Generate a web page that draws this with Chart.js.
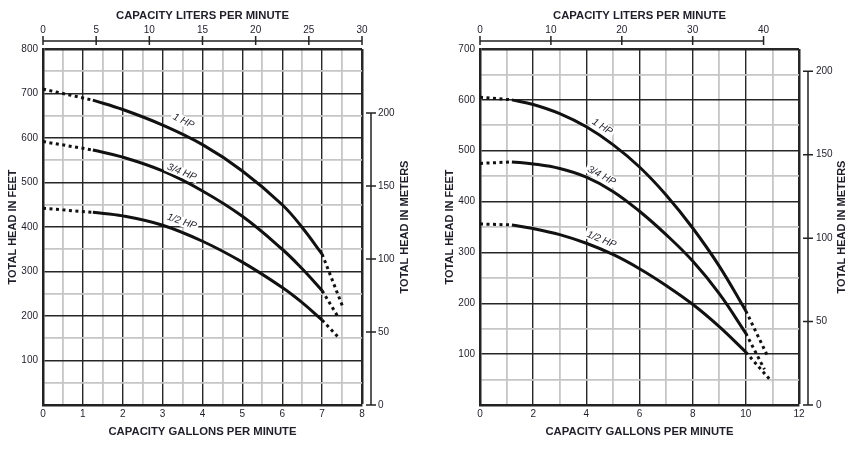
<!DOCTYPE html>
<html>
<head>
<meta charset="utf-8">
<script src="https://cdn.jsdelivr.net/npm/chart.js@4.4.1/dist/chart.umd.min.js"></script>
<style>
  body { margin: 0; background: #fff; }
  .panel { position: absolute; top: 0; }
</style>
</head>
<body>
<div class="panel" style="left:0"><canvas id="leftChart" width="430" height="459"></canvas></div>
<div class="panel" style="left:430px"><canvas id="rightChart" width="426" height="459"></canvas></div>
<script>
// Curve names (same in both panels)
const CURVE_NAMES = ["1 HP", "3/4 HP", "1/2 HP"];

// Left panel: gallons per minute vs total head in feet
const LEFT_GPM = [1.25, 2, 3, 4, 5, 6, 6.5, 7];
const LEFT_1HP = [685, 664, 629, 585, 526, 450, 399, 339];
const LEFT_34HP = [573, 557, 526, 481, 424, 350, 306, 257];
const LEFT_12HP = [433, 425, 404, 368, 321, 264, 230, 191];
// dotted parts near shut-off
const LEFT_SHUTOFF_GPM = [0, 1.25];
const LEFT_1HP_SHUTOFF = [710, 685];
const LEFT_34HP_SHUTOFF = [592, 573];
const LEFT_12HP_SHUTOFF = [442, 433];
// dotted parts past the end of the curve
const LEFT_1HP_RUNOUT_GPM = [7, 7.52];
const LEFT_1HP_RUNOUT = [339, 220];
const LEFT_34HP_RUNOUT_GPM = [7, 7.42];
const LEFT_34HP_RUNOUT = [257, 195];
const LEFT_12HP_RUNOUT_GPM = [7, 7.43];
const LEFT_12HP_RUNOUT = [191, 150];

// Right panel
const RIGHT_GPM = [1.2, 2, 3, 4, 5, 6, 7, 8, 9, 10];
const RIGHT_1HP = [600, 591, 573, 547, 512, 468, 413, 348, 273, 185];
const RIGHT_34HP = [478, 474, 465, 448, 420, 381, 335, 283, 219, 141];
const RIGHT_12HP = [354, 347, 335, 318, 296, 268, 235, 198, 154, 104];
const RIGHT_SHUTOFF_GPM = [0, 1.2];
const RIGHT_1HP_SHUTOFF = [605, 600];
const RIGHT_34HP_SHUTOFF = [475, 478];
const RIGHT_12HP_SHUTOFF = [356, 354];
const RIGHT_1HP_RUNOUT_GPM = [10, 10.83];
const RIGHT_1HP_RUNOUT = [185, 95];
const RIGHT_34HP_RUNOUT_GPM = [10, 10.7];
const RIGHT_34HP_RUNOUT = [141, 70];
const RIGHT_12HP_RUNOUT_GPM = [10, 10.97];
const RIGHT_12HP_RUNOUT = [104, 46];

const FT_TO_M = 0.3048;
const TXT = "#1f1f2a";
const DARK_GRID = "#262626";
const LIGHT_GRID = "#c6c6c6";

Chart.defaults.font.family = '"Liberation Sans", Arial, Helvetica, sans-serif';
Chart.defaults.color = TXT;

const pts = (xs, ys) => xs.map((x, i) => ({ x: x, y: ys[i] }));

// axis lines for liters / meters, the meters title and the curve labels
const decorPlugin = {
  id: "decor",
  afterDraw(chart, args, opts) {
    const ctx = chart.ctx;
    const a = chart.chartArea;
    const top = chart.scales.x2;
    const m = chart.scales.y2;
    ctx.save();
    ctx.strokeStyle = "#222";
    ctx.lineWidth = 1.5;

    // liters per minute axis above the plot
    const ty = a.top - 8;
    const tv = top.ticks.map(t => t.value);
    ctx.beginPath();
    ctx.moveTo(top.getPixelForValue(tv[0]), ty);
    ctx.lineTo(top.getPixelForValue(tv[tv.length - 1]), ty);
    tv.forEach(v => {
      const x = top.getPixelForValue(v);
      ctx.moveTo(x, ty - 5);
      ctx.lineTo(x, ty + 4);
    });
    ctx.stroke();

    // meters axis right of the plot
    const mx = a.right + 9;
    const mv = m.ticks.map(t => t.value);
    ctx.beginPath();
    ctx.moveTo(mx, m.getPixelForValue(mv[0]));
    ctx.lineTo(mx, m.getPixelForValue(mv[mv.length - 1]));
    mv.forEach(v => {
      const y = m.getPixelForValue(v);
      ctx.moveTo(mx - 5, y);
      ctx.lineTo(mx + 5, y);
    });
    ctx.stroke();

    // meters title, reads bottom to top
    ctx.save();
    ctx.translate(a.right + 43, (a.top + a.bottom) / 2);
    ctx.rotate(-Math.PI / 2);
    ctx.fillStyle = TXT;
    ctx.font = 'bold 11px "Liberation Sans", Arial, sans-serif';
    ctx.textAlign = "center";
    ctx.textBaseline = "middle";
    ctx.fillText("TOTAL HEAD IN METERS", 0, 0);
    ctx.restore();

    // curve labels
    const xs = chart.scales.x, ys = chart.scales.y;
    ctx.font = 'italic 10px "Liberation Sans", Arial, sans-serif';
    ctx.textAlign = "center";
    ctx.textBaseline = "middle";
    opts.labels.forEach(l => {
      ctx.save();
      ctx.translate(xs.getPixelForValue(l.gpm), ys.getPixelForValue(l.ft));
      ctx.rotate(l.angle * Math.PI / 180);
      const w = ctx.measureText(l.text).width;
      ctx.fillStyle = "#fff";
      ctx.fillRect(-w / 2 - 2, -5, w + 4, 10);
      ctx.fillStyle = TXT;
      ctx.fillText(l.text, 0, 0);
      ctx.restore();
    });
    ctx.restore();
  }
};

function buildPanel(id, p) {
  const datasets = [];
  const solid = { borderColor: "#111", borderWidth: 3, pointRadius: 0, tension: 0.4 };
  const dotted = { borderColor: "#111", borderWidth: 3, pointRadius: 0, tension: 0, borderDash: [3, 3.5], borderCapStyle: "butt" };
  p.curves.forEach(c => {
    datasets.push(Object.assign({ label: c.name, data: pts(p.gpm, c.main) }, solid));
    datasets.push(Object.assign({ data: pts(p.shutGpm, c.shut) }, dotted));
    datasets.push(Object.assign({ data: pts(c.runGpm, c.run) }, dotted));
  });

  return new Chart(document.getElementById(id), {
    type: "line",
    data: { datasets: datasets },
    plugins: [decorPlugin],
    options: {
      responsive: false,
      animation: false,
      layout: { padding: 0 },
      plugins: {
        legend: { display: false },
        tooltip: { enabled: false },
        decor: { labels: p.labels }
      },
      scales: {
        x: {
          type: "linear", position: "bottom", min: 0, max: p.gpmMax,
          ticks: {
            stepSize: p.gpmStep, autoSkip: false, maxRotation: 0, padding: 3,
            font: { size: 10 },
            callback: v => (v % p.gpmLabelEvery === 0 ? v : "")
          },
          grid: {
            drawTicks: false,
            color: c => (c.tick.value % p.gpmLabelEvery === 0 ? DARK_GRID : LIGHT_GRID),
            lineWidth: c => (c.tick.value === p.gpmMax ? 2.5 : c.tick.value % p.gpmLabelEvery === 0 ? 1.4 : 1.8)
          },
          border: { color: "#222", width: 2.5 },
          title: {
            display: true, text: "CAPACITY GALLONS PER MINUTE", color: TXT,
            font: { size: 11.3, weight: "bold" }, padding: { top: 0, bottom: 20 }
          },
          afterFit: s => { s.height = 54; }
        },
        x2: {
          type: "linear", position: "top", min: 0, max: p.lpmMax,
          ticks: { stepSize: p.lpmStep, includeBounds: false, autoSkip: false, maxRotation: 0, padding: 13, font: { size: 10 } },
          grid: { display: false, drawTicks: false },
          border: { display: false },
          title: {
            display: true, text: "CAPACITY LITERS PER MINUTE", color: TXT,
            font: { size: 11.3, weight: "bold" }, padding: { top: 9, bottom: 0 }
          },
          afterFit: s => { s.height = 49; }
        },
        y: {
          type: "linear", position: "left", min: 0, max: p.ftMax,
          ticks: {
            stepSize: 50, autoSkip: false, padding: 5, font: { size: 10 },
            callback: v => (v % 100 === 0 && v !== 0 ? v : "")
          },
          grid: {
            drawTicks: false,
            color: c => (c.tick.value % 100 === 0 ? DARK_GRID : LIGHT_GRID),
            lineWidth: c => (c.tick.value === p.ftMax ? 2.5 : c.tick.value % 100 === 0 ? 1.4 : 1.8)
          },
          border: { color: "#222", width: 2.5 },
          title: {
            display: true, text: "TOTAL HEAD IN FEET", color: TXT,
            font: { size: 11, weight: "bold" }, padding: { top: p.ftTitlePad, bottom: 0 }
          },
          afterFit: s => { s.width = p.leftW; }
        },
        y2: {
          type: "linear", position: "right", min: 0, max: p.ftMax * FT_TO_M,
          ticks: { stepSize: 50, includeBounds: false, autoSkip: false, padding: p.mPad, font: { size: 10 } },
          grid: { display: false, drawTicks: false },
          border: { display: false },
          afterFit: s => { s.width = p.rightW; }
        }
      }
    }
  });
}

buildPanel("leftChart", {
  gpm: LEFT_GPM, shutGpm: LEFT_SHUTOFF_GPM,
  curves: [
    { name: CURVE_NAMES[0], main: LEFT_1HP, shut: LEFT_1HP_SHUTOFF, runGpm: LEFT_1HP_RUNOUT_GPM, run: LEFT_1HP_RUNOUT },
    { name: CURVE_NAMES[1], main: LEFT_34HP, shut: LEFT_34HP_SHUTOFF, runGpm: LEFT_34HP_RUNOUT_GPM, run: LEFT_34HP_RUNOUT },
    { name: CURVE_NAMES[2], main: LEFT_12HP, shut: LEFT_12HP_SHUTOFF, runGpm: LEFT_12HP_RUNOUT_GPM, run: LEFT_12HP_RUNOUT }
  ],
  labels: [
    { text: CURVE_NAMES[0], gpm: 3.52, ft: 638, angle: 26 },
    { text: CURVE_NAMES[1], gpm: 3.48, ft: 523, angle: 22 },
    { text: CURVE_NAMES[2], gpm: 3.48, ft: 412, angle: 19 }
  ],
  gpmMax: 8, gpmStep: 0.5, gpmLabelEvery: 1,
  lpmMax: 30, lpmStep: 5,
  ftMax: 800,
  leftW: 43, rightW: 68, ftTitlePad: 6, mPad: 16
});

buildPanel("rightChart", {
  gpm: RIGHT_GPM, shutGpm: RIGHT_SHUTOFF_GPM,
  curves: [
    { name: CURVE_NAMES[0], main: RIGHT_1HP, shut: RIGHT_1HP_SHUTOFF, runGpm: RIGHT_1HP_RUNOUT_GPM, run: RIGHT_1HP_RUNOUT },
    { name: CURVE_NAMES[1], main: RIGHT_34HP, shut: RIGHT_34HP_SHUTOFF, runGpm: RIGHT_34HP_RUNOUT_GPM, run: RIGHT_34HP_RUNOUT },
    { name: CURVE_NAMES[2], main: RIGHT_12HP, shut: RIGHT_12HP_SHUTOFF, runGpm: RIGHT_12HP_RUNOUT_GPM, run: RIGHT_12HP_RUNOUT }
  ],
  labels: [
    { text: CURVE_NAMES[0], gpm: 4.6, ft: 547, angle: 32 },
    { text: CURVE_NAMES[1], gpm: 4.57, ft: 451, angle: 28 },
    { text: CURVE_NAMES[2], gpm: 4.57, ft: 325, angle: 22 }
  ],
  gpmMax: 12, gpmStep: 1, gpmLabelEvery: 2,
  lpmMax: 45, lpmStep: 10,
  ftMax: 700,
  leftW: 50, rightW: 57, ftTitlePad: 13, mPad: 17
});
</script>
</body>
</html>
